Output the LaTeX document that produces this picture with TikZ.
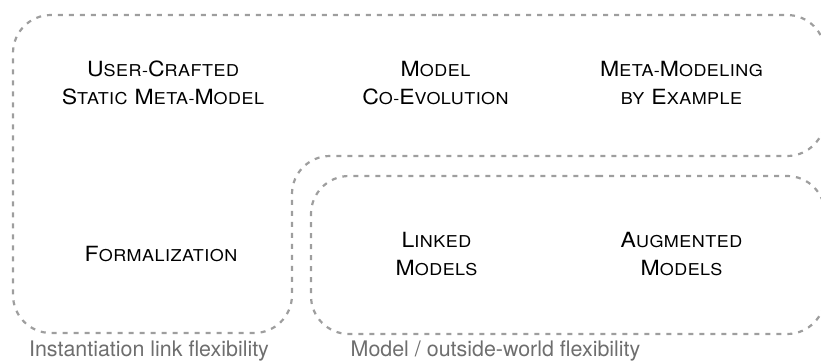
\documentclass[tikz,border=0pt]{standalone}
\usepackage{fontspec}
\setmainfont{TeX Gyre Heros}
\newfontfamily\topicfont{TeX Gyre Heros}[FakeStretch=1.1, LetterSpace=3]
\newcommand\lc[1]{{\fontsize{16.4}{28}\selectfont #1}}
\begin{document}
\begin{tikzpicture}[x=1bp,y=-1bp,
  region/.style={draw=dashgray, line width=2.2bp, dash pattern=on 5bp off 6bp, rounded corners=38bp},
  topic/.style={align=center, text=black, font=\fontsize{21}{28.5}\selectfont\topicfont},
  axis/.style={text=labelgray, anchor=base, font=\fontsize{21.5}{24}\selectfont}]
\definecolor{dashgray}{RGB}{158,158,158}
\definecolor{labelgray}{RGB}{110,110,110}
\useasboundingbox (0,0) rectangle (821,362);
% L-shaped region
\draw[region] (400,15) -- (825,15) -- (825,156) -- (292,156) -- (292,333) -- (13,333) -- (13,15) -- cycle;
% lower-right region
\draw[region] (560,176) -- (825,176) -- (825,334) -- (311,334) -- (311,176) -- cycle;
\node[topic] (ucs) at (163,83) {U\lc{SER-}C\lc{RAFTED}\\S\lc{TATIC} M\lc{ETA-}M\lc{ODEL}};
\node[topic] (mce) at (435.5,83) {M\lc{ODEL}\\C\lc{O-}E\lc{VOLUTION}};
\node[topic] (mbe) at (681.5,83) {M\lc{ETA-}M\lc{ODELING}\\\lc{BY} E\lc{XAMPLE}};
\node[topic] (form) at (161,254.5) {F\lc{ORMALIZATION}};
\node[topic] (lnk) at (436.5,254) {L\lc{INKED}\\M\lc{ODELS}};
\node[topic] (aug) at (681.5,254) {A\lc{UGMENTED}\\M\lc{ODELS}};
\node[axis] (ax1) at (149,356.5) {Instantiation link flexibility};
\node[axis] (ax2) at (495.5,356.5) {Model / outside-world flexibility};
\end{tikzpicture}
\end{document}
